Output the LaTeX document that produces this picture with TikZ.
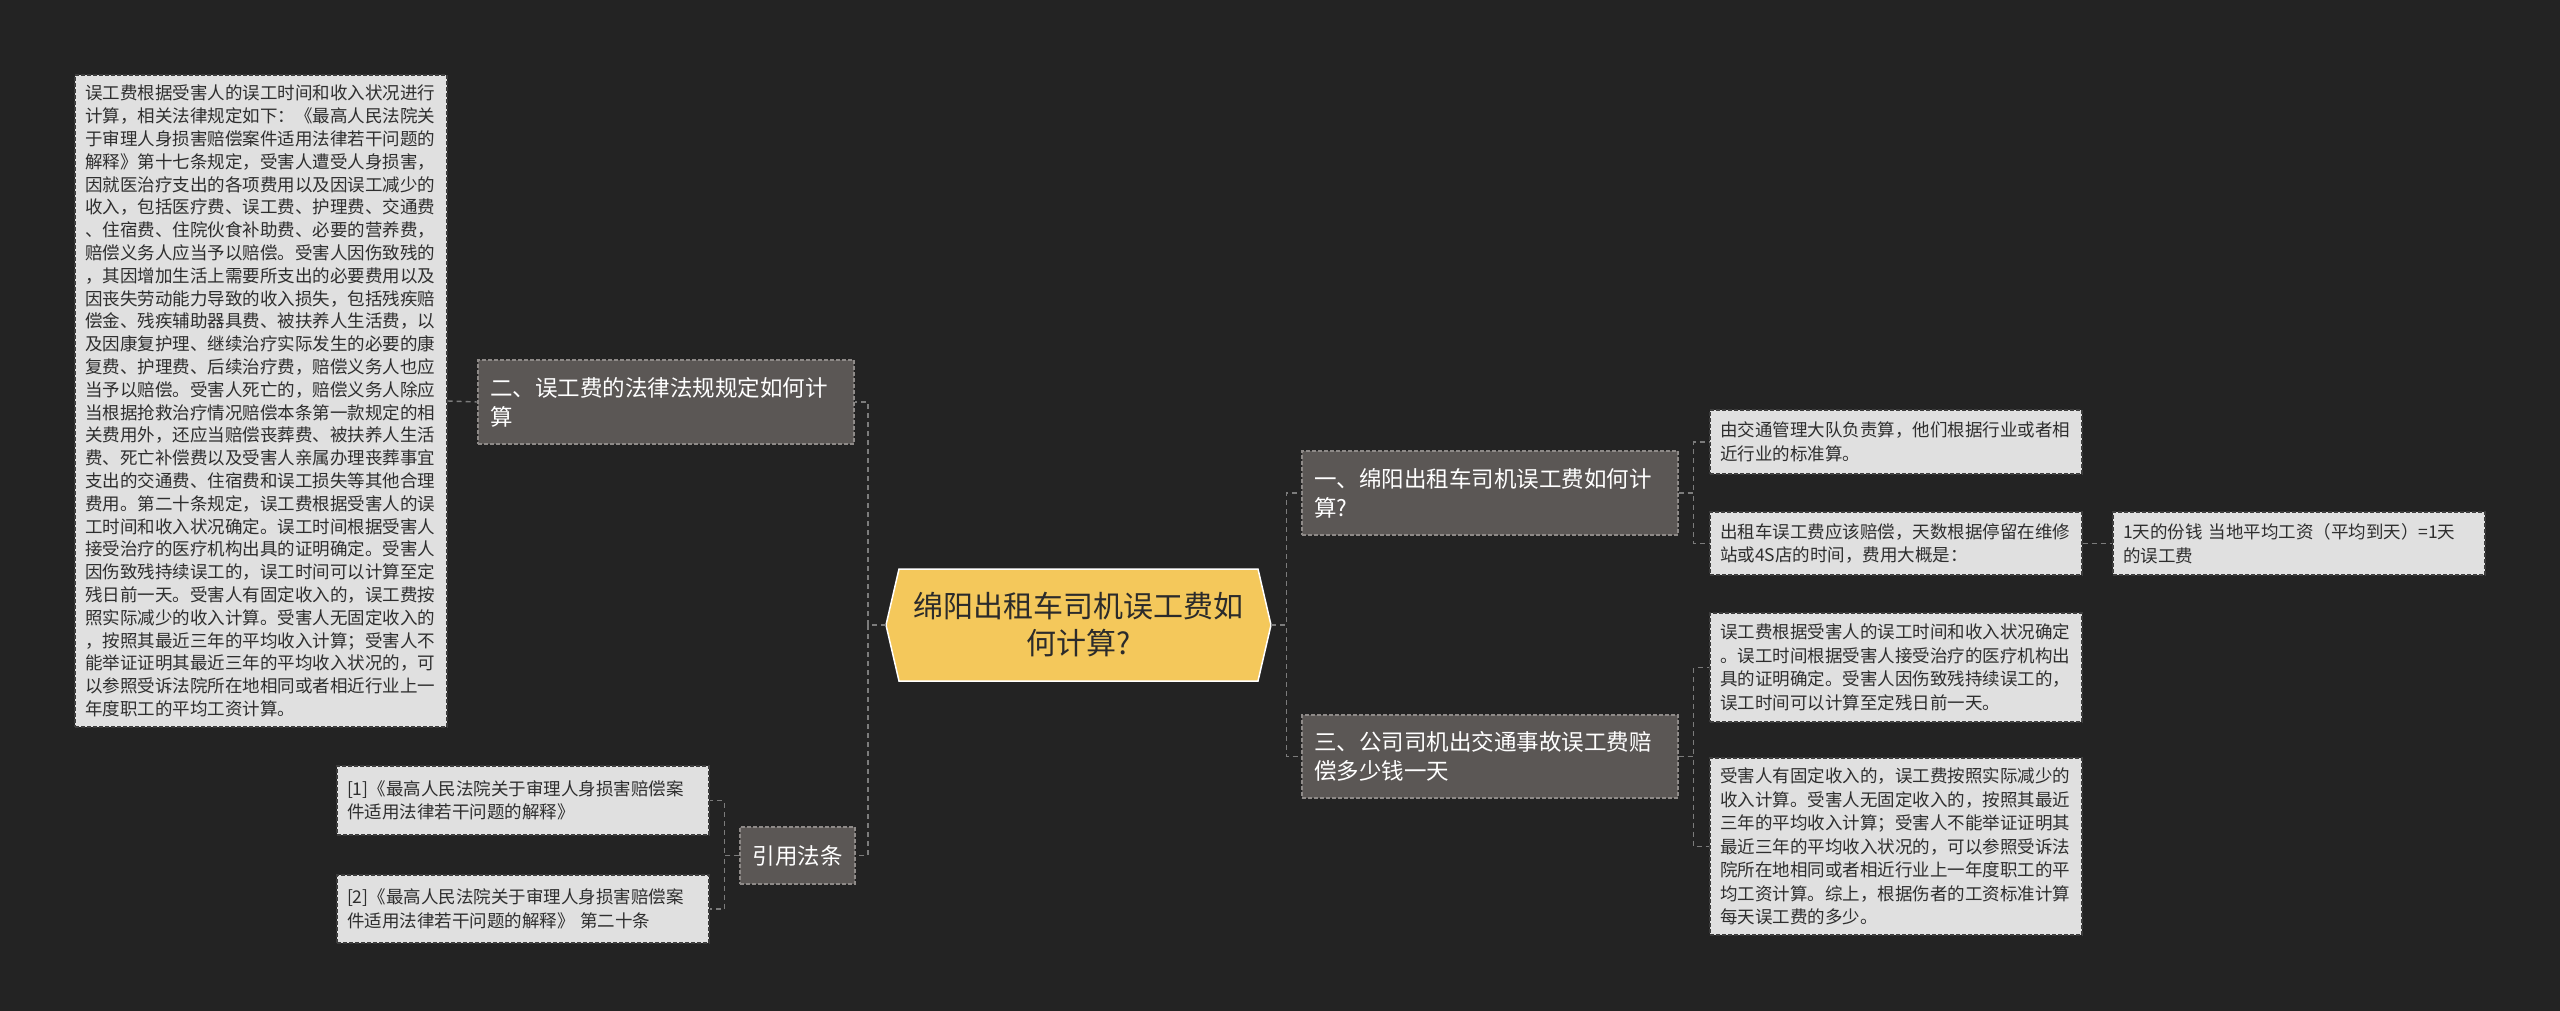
\documentclass[tikz,border=0pt]{standalone}
\usepackage{fontspec}
\setmainfont{Noto Sans CJK SC}
\definecolor{bgc}{HTML}{232323}
\definecolor{connc}{HTML}{7C7C7C}
\definecolor{leaffill}{HTML}{E0E0E0}
\definecolor{leafborder}{HTML}{3C3C3C}
\definecolor{leaftext}{HTML}{2E2E2E}
\definecolor{brfill}{HTML}{5B5755}
\definecolor{brborder}{HTML}{8E8A88}
\definecolor{rootfill}{HTML}{F4C85B}
\definecolor{roottext}{HTML}{2B2B2B}
\tikzset{
  conn/.style={draw=connc, line width=1.4pt, dash pattern=on 5pt off 4pt},
  leafbox/.style={rectangle, fill=leaffill, draw=leafborder, line width=1.1pt,
    dash pattern=on 4pt off 2pt, text=leaftext, align=left, inner xsep=10pt,
    inner ysep=0pt, text width=352pt, font=\fontsize{17.5}{23.5}\selectfont},
  branchbox/.style={rectangle, fill=brfill, draw=brborder, line width=1.1pt,
    dash pattern=on 4pt off 2pt, text=white, align=left, inner xsep=12pt,
    inner ysep=0pt, font=\fontsize{22.5}{29}\selectfont},
}
\begin{document}
\begin{tikzpicture}[x=1pt, y=-1pt]
\useasboundingbox (0,0) rectangle (2560,1011);
\fill[bgc] (0,0) rectangle (2560,1011);

% root hexagon
\filldraw[fill=rootfill, draw=white, line width=1.5pt]
  (886,625) -- (899,569) -- (1258,569) -- (1271,625) -- (1258,681) -- (899,681) -- cycle;
\node[minimum width=385pt, minimum height=112pt, inner sep=0pt, align=center,
  text=roottext, font=\fontsize{30}{37}\selectfont] (root) at (1078.5,625)
  {绵阳出租车司机误工费如\\何计算?};

% left side
\node[branchbox, text width=352pt, minimum height=84pt] (n2) at (666,402)
  {二、误工费的法律法规规定如何计\\算};
\node[leafbox, minimum height=652pt, font=\fontsize{17.5}{22.8}\selectfont] (big) at (261,401)
  {误工费根据受害人的误工时间和收入状况进行\\
   计算，相关法律规定如下：《最高人民法院关\\
   于审理人身损害赔偿案件适用法律若干问题的\\
   解释》第十七条规定，受害人遭受人身损害，\\
   因就医治疗支出的各项费用以及因误工减少的\\
   收入，包括医疗费、误工费、护理费、交通费\\
   、住宿费、住院伙食补助费、必要的营养费，\\
   赔偿义务人应当予以赔偿。受害人因伤致残的\\
   ，其因增加生活上需要所支出的必要费用以及\\
   因丧失劳动能力导致的收入损失，包括残疾赔\\
   偿金、残疾辅助器具费、被扶养人生活费，以\\
   及因康复护理、继续治疗实际发生的必要的康\\
   复费、护理费、后续治疗费，赔偿义务人也应\\
   当予以赔偿。受害人死亡的，赔偿义务人除应\\
   当根据抢救治疗情况赔偿本条第一款规定的相\\
   关费用外，还应当赔偿丧葬费、被扶养人生活\\
   费、死亡补偿费以及受害人亲属办理丧葬事宜\\
   支出的交通费、住宿费和误工损失等其他合理\\
   费用。第二十条规定，误工费根据受害人的误\\
   工时间和收入状况确定。误工时间根据受害人\\
   接受治疗的医疗机构出具的证明确定。受害人\\
   因伤致残持续误工的，误工时间可以计算至定\\
   残日前一天。受害人有固定收入的，误工费按\\
   照实际减少的收入计算。受害人无固定收入的\\
   ，按照其最近三年的平均收入计算；受害人不\\
   能举证证明其最近三年的平均收入状况的，可\\
   以参照受诉法院所在地相同或者相近行业上一\\
   年度职工的平均工资计算。};
\node[branchbox, align=center, minimum width=115pt, minimum height=57pt, inner xsep=0pt] (ref) at (797.5,855.5) {引用法条};
\node[leafbox, minimum height=69pt] (r1) at (523,800.5)
  {[1]《最高人民法院关于审理人身损害赔偿案\\件适用法律若干问题的解释》};
\node[leafbox, minimum height=68pt] (r2) at (523,909)
  {[2]《最高人民法院关于审理人身损害赔偿案\\件适用法律若干问题的解释》 第二十条};

% right side
\node[branchbox, text width=352pt, minimum height=84pt] (n1) at (1490,493)
  {一、绵阳出租车司机误工费如何计\\算?};
\node[branchbox, text width=352pt, minimum height=83pt] (n3) at (1490,756.5)
  {三、公司司机出交通事故误工费赔\\偿多少钱一天};
\node[leafbox, minimum height=64pt] (a) at (1896,442)
  {由交通管理大队负责算，他们根据行业或者相\\近行业的标准算。};
\node[leafbox, minimum height=63pt] (b) at (1896,543.5)
  {出租车误工费应该赔偿，天数根据停留在维修\\站或4S店的时间，费用大概是：};
\node[leafbox, minimum height=63pt] (c) at (2299,543.5)
  {1天的份钱 当地平均工资（平均到天）=1天\\的误工费};
\node[leafbox, minimum height=109pt] (d) at (1896,667.5)
  {误工费根据受害人的误工时间和收入状况确定\\
   。误工时间根据受害人接受治疗的医疗机构出\\
   具的证明确定。受害人因伤致残持续误工的，\\
   误工时间可以计算至定残日前一天。};
\node[leafbox, minimum height=177pt] (e) at (1896,846.5)
  {受害人有固定收入的，误工费按照实际减少的\\
   收入计算。受害人无固定收入的，按照其最近\\
   三年的平均收入计算；受害人不能举证证明其\\
   最近三年的平均收入状况的，可以参照受诉法\\
   院所在地相同或者相近行业上一年度职工的平\\
   均工资计算。综上，根据伤者的工资标准计算\\
   每天误工费的多少。};

% connectors
\draw[conn] (root.west) -- ++(-18,0) |- (n2.east);
\draw[conn] (root.west) -- ++(-18,0) |- (ref.east);
\draw[conn] (root.east) -- ++(15,0) |- (n1.west);
\draw[conn] (root.east) -- ++(15,0) |- (n3.west);
\draw[conn] (big.east) -- (n2.west);
\draw[conn] (ref.west) -- ++(-15,0) |- (r1.east);
\draw[conn] (ref.west) -- ++(-15,0) |- (r2.east);
\draw[conn] (n1.east) -- ++(15,0) |- (a.west);
\draw[conn] (n1.east) -- ++(15,0) |- (b.west);
\draw[conn] (n3.east) -- ++(15,0) |- (d.west);
\draw[conn] (n3.east) -- ++(15,0) |- (e.west);
\draw[conn] (b.east) -- (c.west);
\end{tikzpicture}
\end{document}
